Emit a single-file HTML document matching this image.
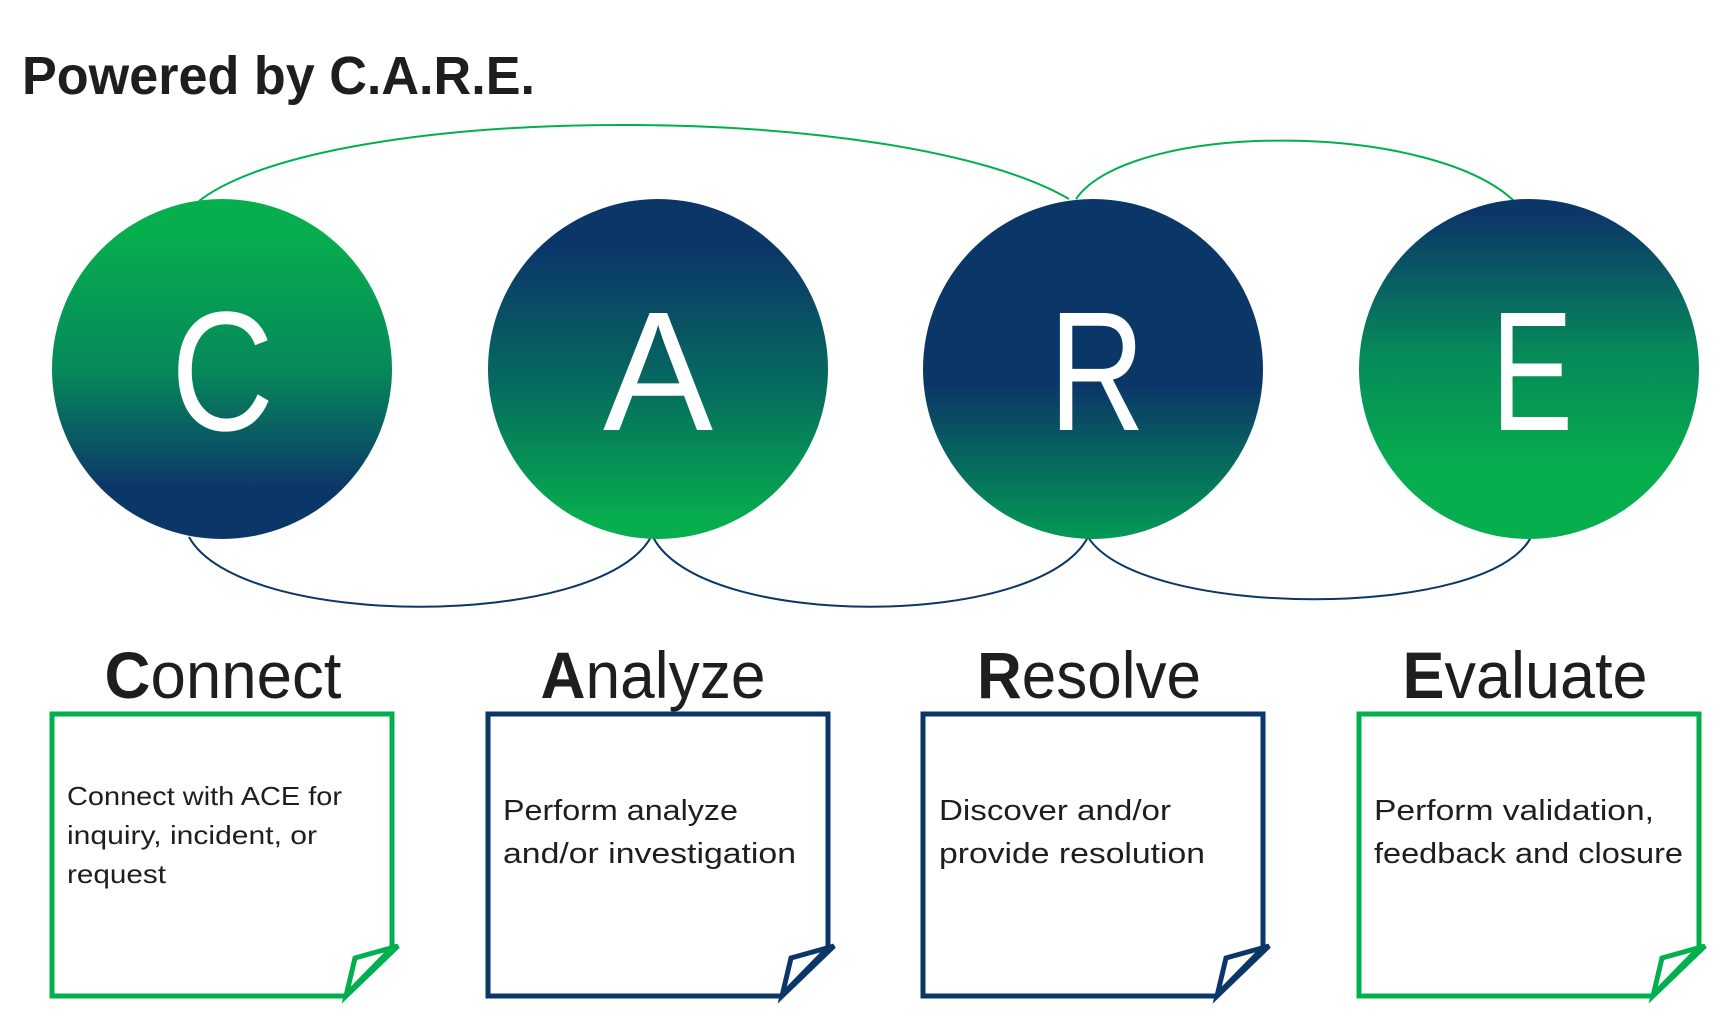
<!DOCTYPE html>
<html><head><meta charset="utf-8"><style>html,body{margin:0;padding:0;background:#fff}svg{display:block}</style></head>
<body>
<svg width="1730" height="1031" viewBox="0 0 1730 1031" xmlns="http://www.w3.org/2000/svg" font-family="Liberation Sans, sans-serif">
<defs>
<linearGradient id="gC" x1="0" y1="0" x2="0" y2="1"><stop offset="0.1" stop-color="#06ae4e"/><stop offset="0.5" stop-color="#06895a"/><stop offset="0.85" stop-color="#0b3768"/></linearGradient>
<linearGradient id="gA" x1="0" y1="0" x2="0" y2="1"><stop offset="0.15" stop-color="#0b3768"/><stop offset="0.55" stop-color="#066b5f"/><stop offset="0.95" stop-color="#06ae4e"/></linearGradient>
<linearGradient id="gR" x1="0" y1="0" x2="0" y2="1"><stop offset="0.55" stop-color="#0b3768"/><stop offset="1" stop-color="#039a55"/></linearGradient>
<linearGradient id="gE" x1="0" y1="0" x2="0" y2="1"><stop offset="0.05" stop-color="#0b3768"/><stop offset="0.45" stop-color="#06895a"/><stop offset="0.8" stop-color="#06ae4e"/></linearGradient>
</defs>
<text x="22" y="94" font-size="54" font-weight="bold" fill="#1e1e1e" textLength="513" lengthAdjust="spacingAndGlyphs">Powered by C.A.R.E.</text>
<g fill="none" stroke-width="2">
<path d="M199 201 C 330 100, 900 100, 1069 199" stroke="#00b04f"/>
<path d="M1076 199 C 1130 120, 1440 120, 1519 206" stroke="#00b04f"/>
<path d="M189 537 C 240 630, 600 630, 651 537" stroke="#0b3768"/>
<path d="M653 537 C 700 630, 1040 630, 1088 537" stroke="#0b3768"/>
<path d="M1088 537 C 1140 620, 1490 620, 1531 537" stroke="#0b3768"/>
</g>
<circle cx="222" cy="369" r="170" fill="url(#gC)"/>
<circle cx="658" cy="369" r="170" fill="url(#gA)"/>
<circle cx="1093" cy="369" r="170" fill="url(#gR)"/>
<circle cx="1529" cy="369" r="170" fill="url(#gE)"/>
<g fill="#fff" font-size="170">
<text x="171" y="430" textLength="103" lengthAdjust="spacingAndGlyphs">C</text>
<text x="603" y="430" textLength="110" lengthAdjust="spacingAndGlyphs">A</text>
<text x="1049" y="430" textLength="96" lengthAdjust="spacingAndGlyphs">R</text>
<text x="1491" y="430" textLength="82" lengthAdjust="spacingAndGlyphs">E</text>
</g>
<g font-size="66" fill="#1e1e1e" text-anchor="middle">
<text x="223" y="698" textLength="237" lengthAdjust="spacingAndGlyphs"><tspan font-weight="bold">C</tspan>onnect</text>
<text x="653" y="698" textLength="225" lengthAdjust="spacingAndGlyphs"><tspan font-weight="bold">A</tspan>nalyze</text>
<text x="1089" y="698" textLength="224" lengthAdjust="spacingAndGlyphs"><tspan font-weight="bold">R</tspan>esolve</text>
<text x="1525" y="698" textLength="245" lengthAdjust="spacingAndGlyphs"><tspan font-weight="bold">E</tspan>valuate</text>
</g>
<g fill="none" stroke-width="5" stroke-linejoin="miter">
<g stroke="#00b04f"><path d="M52 714 H392 V948 L345 996 H52 Z"/><path d="M398 946 L355 958 L346 996 Z"/></g>
<g stroke="#0b3768"><path d="M488 714 H828 V948 L781 996 H488 Z"/><path d="M834 946 L791 958 L782 996 Z"/></g>
<g stroke="#0b3768"><path d="M923 714 H1263 V948 L1216 996 H923 Z"/><path d="M1269 946 L1226 958 L1217 996 Z"/></g>
<g stroke="#00b04f"><path d="M1359 714 H1699 V948 L1652 996 H1359 Z"/><path d="M1705 946 L1662 958 L1653 996 Z"/></g>
</g>
<g fill="#1e1e1e" font-size="26">
<text x="67" y="805" textLength="275" lengthAdjust="spacingAndGlyphs">Connect with ACE for</text>
<text x="67" y="844" textLength="250" lengthAdjust="spacingAndGlyphs">inquiry, incident, or</text>
<text x="67" y="883" textLength="99" lengthAdjust="spacingAndGlyphs">request</text>
</g>
<g fill="#1e1e1e" font-size="29">
<text x="503" y="820" textLength="235" lengthAdjust="spacingAndGlyphs">Perform analyze</text>
<text x="503" y="863" textLength="293" lengthAdjust="spacingAndGlyphs">and/or investigation</text>
<text x="939" y="820" textLength="232" lengthAdjust="spacingAndGlyphs">Discover and/or</text>
<text x="939" y="863" textLength="266" lengthAdjust="spacingAndGlyphs">provide resolution</text>
<text x="1374" y="820" textLength="280" lengthAdjust="spacingAndGlyphs">Perform validation,</text>
<text x="1374" y="863" textLength="309" lengthAdjust="spacingAndGlyphs">feedback and closure</text>
</g>
</svg>
</body></html>
